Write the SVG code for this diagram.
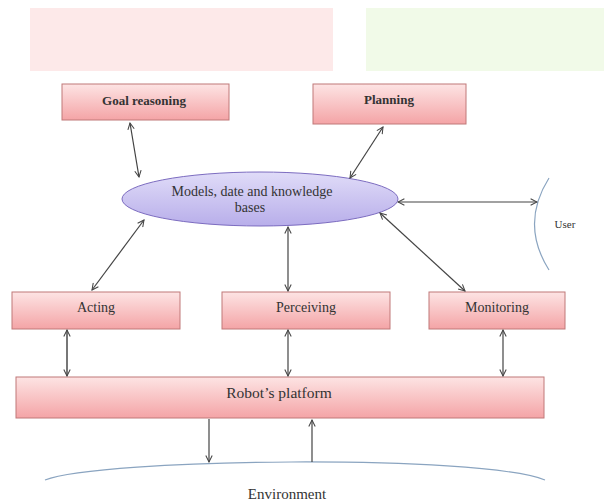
<svg xmlns="http://www.w3.org/2000/svg" width="604" height="504" viewBox="0 0 604 504">
<defs>
<linearGradient id="pg" x1="0" y1="0" x2="0" y2="1">
<stop offset="0" stop-color="#fde4e4"/><stop offset="1" stop-color="#f4a4a6"/>
</linearGradient>
<linearGradient id="eg" x1="0" y1="0" x2="0" y2="1">
<stop offset="0" stop-color="#e0dcf8"/><stop offset="1" stop-color="#b8aeea"/>
</linearGradient>
<marker id="ah" viewBox="0 0 10 10" refX="9" refY="5" markerWidth="8" markerHeight="8" markerUnits="userSpaceOnUse" orient="auto-start-reverse">
<path d="M1,1 L9,5 L1,9" fill="none" stroke="#444" stroke-width="1.3"/>
</marker>
</defs>
<style>
.box{fill:url(#pg);stroke:#c07878;stroke-width:1}
.t{font-family:"Liberation Serif",serif;font-size:14px;fill:#333;text-anchor:middle}
.b{font-weight:bold}
.c{stroke:#444;stroke-width:1.2;fill:none;marker-start:url(#ah);marker-end:url(#ah)}
.s{stroke:#444;stroke-width:1.2;fill:none;marker-end:url(#ah)}
.arc{fill:none;stroke:#8aa4c0;stroke-width:1.2}
</style>
<rect width="604" height="504" fill="#fff"/>
<g id="bg">
<rect x="30" y="8" width="303" height="63" fill="#fde9e9"/>
<rect x="366" y="8" width="238" height="63" fill="#f1fae8"/>
</g>
<g id="goal"><rect class="box" x="62" y="84" width="167" height="36"/><text class="t b" x="144" y="105" style="font-size:13px">Goal reasoning</text></g>
<g id="planning"><rect class="box" x="313" y="84" width="153" height="40"/><text class="t b" x="389" y="104" style="font-size:13px">Planning</text></g>
<g id="models"><ellipse cx="260" cy="199" rx="138" ry="27" fill="url(#eg)" stroke="#7c6cc0" stroke-width="1"/>
<text class="t" x="252" y="196">Models, date and knowledge</text><text class="t" x="250" y="212">bases</text></g>
<g id="user"><path class="arc" d="M549,178 Q520,224 549,270"/><text class="t" x="565" y="228" style="font-size:11px">User</text></g>
<g id="acting"><rect class="box" x="12" y="292" width="168" height="37"/><text class="t" x="96" y="312">Acting</text></g>
<g id="perceiving"><rect class="box" x="222" y="292" width="168" height="37"/><text class="t" x="306" y="312">Perceiving</text></g>
<g id="monitoring"><rect class="box" x="429" y="292" width="136" height="37"/><text class="t" x="497" y="312">Monitoring</text></g>
<g id="robot"><rect class="box" x="16" y="377" width="528" height="41"/><text class="t" x="279" y="398" style="font-size:15.5px">Robot’s platform</text></g>
<g id="environment"><path class="arc" d="M45,480 C100,458 480,454 545,480"/><text class="t" x="287" y="499" style="font-size:15px">Environment</text></g>
<g id="connectors">
<line class="c" x1="130" y1="123" x2="139" y2="177"/>
<line class="c" x1="383" y1="127" x2="350" y2="178"/>
<line class="c" x1="398" y1="202" x2="537" y2="202"/>
<line class="c" x1="380" y1="213" x2="465" y2="291"/>
<line class="c" x1="144" y1="220" x2="92" y2="290"/>
<line class="c" x1="288" y1="227" x2="288" y2="291"/>
<line class="c" x1="67" y1="330" x2="67" y2="376" style="stroke:#777;stroke-width:2"/>
<line class="c" x1="288" y1="330" x2="288" y2="376"/>
<line class="c" x1="503" y1="330" x2="503" y2="376"/>
<line class="s" x1="209" y1="419" x2="209" y2="462"/>
<line class="s" x1="312" y1="462" x2="312" y2="420"/>
</g>
</svg>
